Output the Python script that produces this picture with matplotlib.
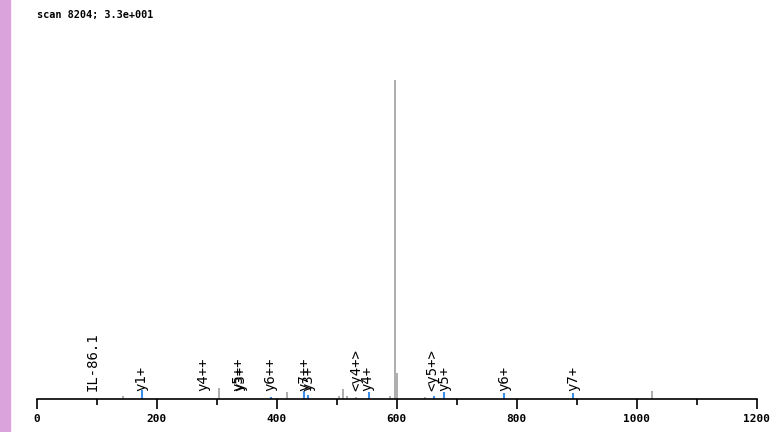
import matplotlib.pyplot as plt
from matplotlib.patches import Rectangle

# peaks (m/z, relative intensity %)
grey_mz = [143, 303, 417, 504, 511, 517, 532, 589, 597, 600, 647, 1025]
grey_int = [0.9, 3.4, 2.2, 0.9, 3.1, 0.9, 0.6, 0.9, 100, 8.2, 0.6, 2.5]
blue_mz = [175, 390, 446, 452, 553, 662, 679, 779, 894]
blue_int = [2.8, 0.5, 2.5, 1.3, 2.2, 0.9, 2.2, 1.9, 1.9]

# annotations
lab_mz = [94, 175, 277, 336, 339, 389, 446, 452, 533, 551, 660, 679, 779, 895]
lab_txt = ['IL-86.1', 'y1+', 'y4++', 'y5++', 'y3+', 'y6++', 'y7++', 'y3+',
           '<y4+>', 'y4+', '<y5+>', 'y5+', 'y6+', 'y7+']

title = 'scan 8204; 3.3e+001'

fig = plt.figure(figsize=(7.73, 4.32), dpi=100)
# pink strip on the left
fig.patches.append(Rectangle((0, 0), 10 / 773, 1, transform=fig.transFigure,
                             color='#dba3dc', zorder=0))

ax = fig.add_axes([36.7 / 773, 33 / 432, 720 / 773, 319 / 432])
ax.vlines(grey_mz, 0, grey_int, color='#a0a0a0', lw=1.2)
ax.vlines(blue_mz, 0, blue_int, color='#3a8fe8', lw=1.5)

for m, t in zip(lab_mz, lab_txt):
    ax.text(m, 2.4, t, rotation=90, ha='center', va='bottom',
            family='DejaVu Sans Mono', fontsize=10, color='black')

ax.set_xlim(0, 1200)
ax.set_ylim(0, 100)
for s in ['top', 'right', 'left']:
    ax.spines[s].set_visible(False)
ax.spines['bottom'].set_linewidth(1.2)
ax.set_yticks([])
ax.set_xticks(range(0, 1201, 200))
ax.set_xticks(range(100, 1200, 200), minor=True)
ax.tick_params(axis='x', which='major', length=7, width=1.2, pad=3.5,
               labelsize=8)
ax.tick_params(axis='x', which='minor', length=4, width=1.2)
for lbl in ax.get_xticklabels():
    lbl.set_family('DejaVu Sans Mono')
    lbl.set_weight('bold')

fig.text(37 / 773, 1 - 15 / 432, title, family='DejaVu Sans Mono',
         fontsize=7.3, weight='bold', va='center', ha='left')

fig.savefig('out.png', dpi=100)
